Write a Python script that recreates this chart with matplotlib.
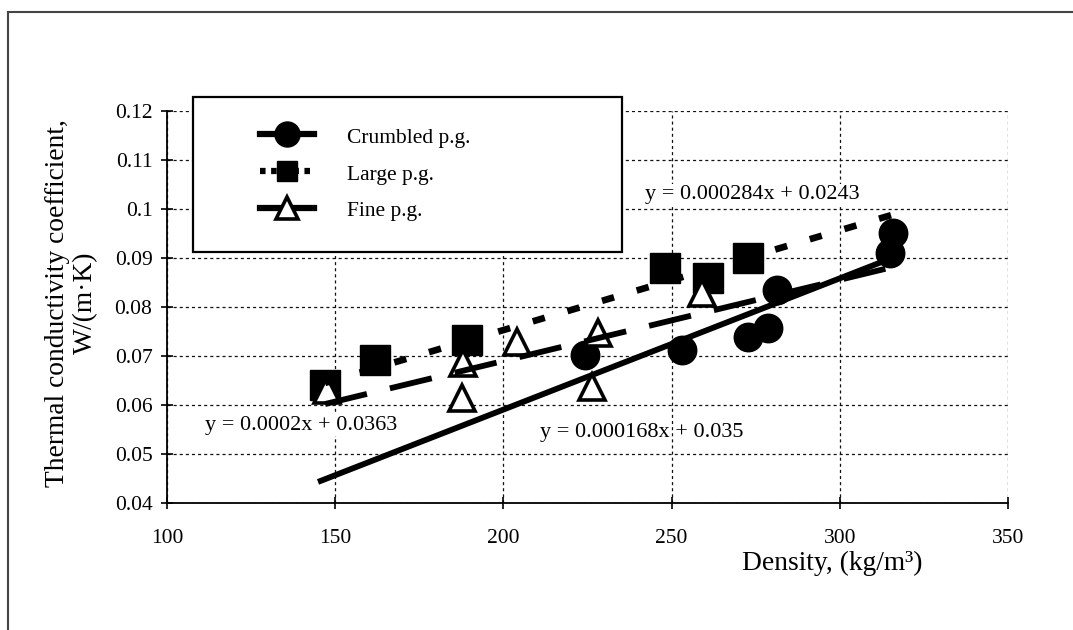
import matplotlib
matplotlib.use('Agg')
import matplotlib.pyplot as plt
from matplotlib.lines import Line2D
from matplotlib.patches import Rectangle

plt.rcParams['font.family'] = ['Liberation Serif', 'DejaVu Serif']
plt.rcParams['lines.scale_dashes'] = False

crumbled_x = [224.3, 253.0, 272.7, 278.7, 281.2, 314.9, 315.8]
crumbled_y = [0.0702, 0.0712, 0.0739, 0.0757, 0.0835, 0.0910, 0.0951]
large_x = [147.0, 161.8, 189.1, 248.0, 260.8, 272.7]
large_y = [0.0641, 0.0692, 0.0733, 0.0880, 0.0859, 0.0900]
fine_x = [147.5, 187.6, 188.0, 204.0, 226.2, 228.1, 259.0]
fine_y = [0.0631, 0.0614, 0.0686, 0.0729, 0.0637, 0.0747, 0.0829]

# trend lines as they are drawn in the chart (end points)
crumbled_fit_x = [144.9, 315.5]
crumbled_fit_y = [0.0443, 0.0900]
large_fit_x = [147.0, 316.5]
large_fit_y = [0.0645, 0.0990]
fine_fit_x = [147.0, 316.0]
fine_fit_y = [0.0602, 0.0882]

series_names = ['Crumbled p.g.', 'Large p.g.', 'Fine p.g.']
x_ticks = [100, 150, 200, 250, 300, 350]
y_ticks = [0.04, 0.05, 0.06, 0.07, 0.08, 0.09, 0.10, 0.11, 0.12]
y_tick_labels = ['0.04', '0.05', '0.06', '0.07', '0.08', '0.09', '0.1', '0.11', '0.12']

#########################################################
fig = plt.figure(figsize=(10.73, 6.30), dpi=100)
ax = fig.add_axes([0.1556, 0.2016, 0.7838, 0.6222])

# markers first, trend lines on top (like the original)
ax.plot(crumbled_x, crumbled_y, 'o', ms=20.5, color='black', zorder=3, clip_on=False)
ax.plot(large_x, large_y, 's', ms=21, color='black', zorder=4, clip_on=False)
ax.plot(fine_x, fine_y, '^', ms=19, mfc='white', mec='black', mew=2.6, zorder=5, clip_on=False)

ax.plot(crumbled_fit_x, crumbled_fit_y, '-', lw=4.2, color='black', zorder=6, solid_capstyle='butt')
ax.plot(large_fit_x, large_fit_y, lw=4.8, color='black', zorder=6, dashes=(9, 17), dash_capstyle='butt')
ax.plot(fine_fit_x, fine_fit_y, lw=4.2, color='black', zorder=6, dashes=(31, 17), dash_capstyle='butt')

ax.set_xlim(100, 350)
ax.set_ylim(0.04, 0.12)
ax.set_xticks(x_ticks)
ax.set_yticks(y_ticks)
ax.set_yticklabels(y_tick_labels)
ax.grid(True, color='#111111', lw=0.9, linestyle=(0, (2.2, 2.2)), zorder=0)
ax.set_axisbelow(True)
for s in ['top', 'right']:
    ax.spines[s].set_visible(False)
for s in ['left', 'bottom']:
    ax.spines[s].set_linewidth(1.3)
ax.tick_params(direction='inout', length=9, width=1.2, labelsize=15.5)
ax.tick_params(axis='x', pad=14)
ax.tick_params(axis='y', pad=6)

# equations of the trend lines
ax.text(210.9, 0.0543, 'y = 0.000168x + 0.035', fontsize=16, va='center', zorder=9)
ax.text(242.1, 0.1029, 'y = 0.000284x + 0.0243', fontsize=16, va='center', zorder=9,
        bbox=dict(fc='white', ec='none', pad=1))
ax.text(111.3, 0.0559, 'y = 0.0002x + 0.0363', fontsize=16, va='center', zorder=9,
        bbox=dict(fc='white', ec='none', pad=1))

# axis titles
fig.text(71.5 / 1073, 1 - 303 / 630, 'Thermal conductivity coefficient,\nW/(m\u00b7K)',
         rotation=90, ha='center', va='center', fontsize=19.8, linespacing=1.2)
fig.text(832 / 1073, 1 - 563 / 630, 'Density, (kg/m\u00b3)', ha='center', va='center', fontsize=19.8)

# legend with a plain box
box = Rectangle((0.031, 0.640), 0.510, 0.396, transform=ax.transAxes, fc='white',
                ec='black', lw=1.6, zorder=7, clip_on=False)
ax.add_patch(box)
handles = [
    Line2D([], [], color='black', lw=4.5, marker='o', ms=18),
    Line2D([], [], color='black', lw=4.5, marker='s', ms=15, dashes=(4, 4)),
    Line2D([], [], color='black', lw=4.5, marker='^', ms=16, mfc='white', mew=2.6),
]
leg = ax.legend(handles, series_names, loc='upper left', bbox_to_anchor=(0.1106, 0.962),
                frameon=False, borderpad=0, borderaxespad=0, fontsize=15.5,
                handlelength=2.5, handletextpad=1.55, labelspacing=0.68, handleheight=1.0)
leg.set_zorder(8)

# outer frame of the figure
fig.add_artist(Line2D([8 / 1073, 8 / 1073], [0, 1 - 12 / 630], color='#444444', lw=1.5))
fig.add_artist(Line2D([8 / 1073, 1], [1 - 12 / 630, 1 - 12 / 630], color='#444444', lw=1.5))

fig.savefig('out.png', dpi=100)
print("finished.")
